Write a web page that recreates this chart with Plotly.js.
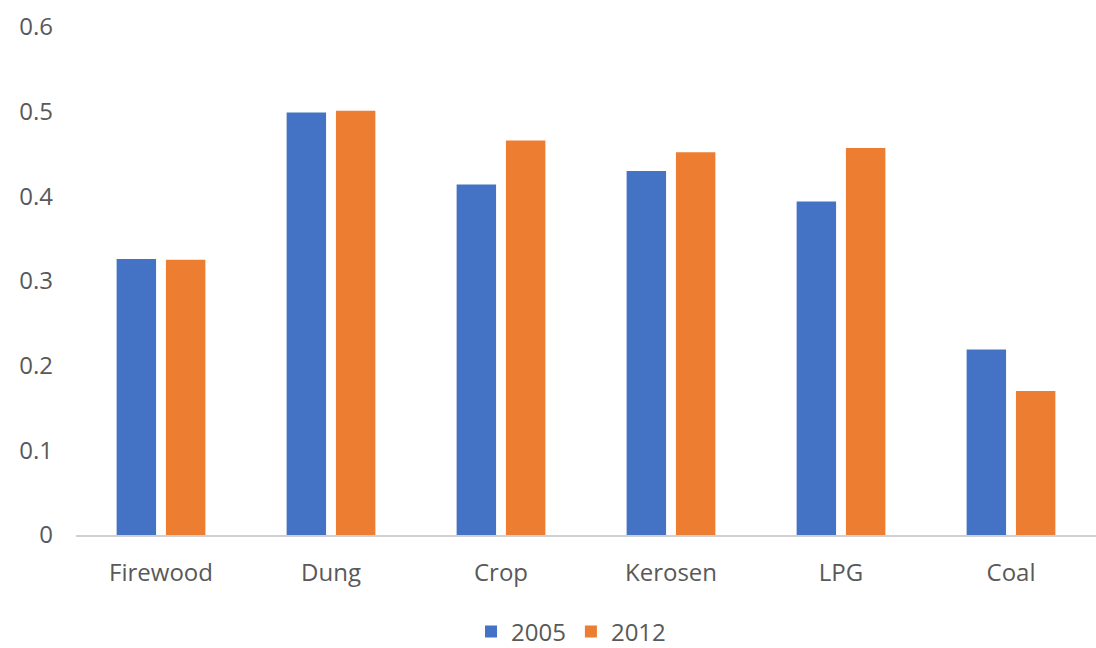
<!DOCTYPE html>
<html>
<head>
<meta charset="utf-8">
<script src="https://cdn.plot.ly/plotly-3.0.1.min.js"></script>
<style>
  html, body { margin: 0; padding: 0; background: #ffffff; }
  #chart { width: 1096px; height: 648px; }
</style>
</head>
<body>
<div id="chart"></div>
<script>
// Household fuel categories and the share for each survey year
const fuels = ["Firewood", "Dung", "Crop", "Kerosen", "LPG", "Coal"];
const values2005 = [0.326, 0.499, 0.414, 0.430, 0.394, 0.219];
const values2012 = [0.325, 0.501, 0.466, 0.452, 0.457, 0.170];
const yTicks = [0, 0.1, 0.2, 0.3, 0.4, 0.5, 0.6];
const yTickText = ["0", "0.1", "0.2", "0.3", "0.4", "0.5", "0.6"];

const textColor = "#595959";
const baseFont = { family: "Open Sans, sans-serif", size: 24, color: textColor };

const traces = [
  { type: "bar", name: "2005", x: fuels, y: values2005,
    marker: { color: "#4472C4" }, hoverinfo: "x+y+name" },
  { type: "bar", name: "2012", x: fuels, y: values2012,
    marker: { color: "#ED7D31" }, hoverinfo: "x+y+name" }
];

const layout = {
  width: 1096, height: 648,
  margin: { l: 76, r: 0, t: 27, b: 113, pad: 0 },
  paper_bgcolor: "#ffffff", plot_bgcolor: "#ffffff",
  font: baseFont,
  barmode: "group",
  bargap: 0.42,
  bargroupgap: 0.2,
  showlegend: true,
  legend: {
    orientation: "h",
    xref: "container", yref: "container",
    x: 0.521, xanchor: "center",
    y: 0.025, yanchor: "middle",
    font: baseFont,
    itemclick: false, itemdoubleclick: false,
    traceorder: "normal"
  },
  xaxis: {
    type: "category",
    showline: true, linecolor: "#D0D0D0", linewidth: 2,
    showgrid: false, zeroline: false,
    ticks: "", ticklabelstandoff: 15,
    tickfont: baseFont
  },
  yaxis: {
    range: [0, 0.6],
    tickvals: yTicks, ticktext: yTickText,
    showline: false, showgrid: false, zeroline: false,
    ticks: "", ticklabelstandoff: 22,
    tickfont: baseFont
  }
};

Plotly.newPlot("chart", traces, layout, { displayModeBar: false, staticPlot: true });
</script>
</body>
</html>
